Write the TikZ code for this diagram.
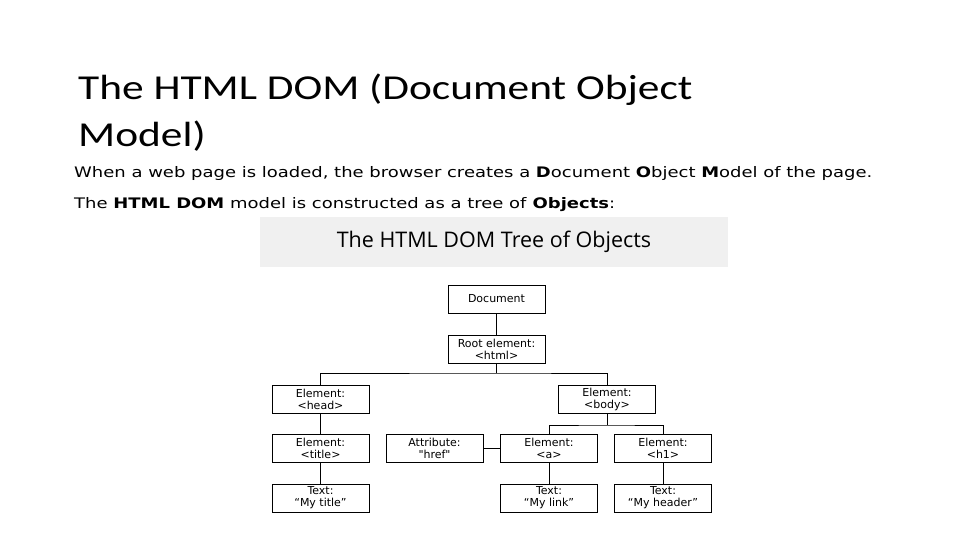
\documentclass[tikz,border=0pt]{standalone}
\usepackage{fontspec}
\setmainfont{Carlito}
\newfontfamily\bodyfont{DejaVu Sans}
\newfontfamily\bannerfont{Open Sans}
\newfontfamily\boxfont{DejaVu Sans}
\definecolor{bannergray}{HTML}{F0F0F0}
\newcommand{\widetext}[1]{\scalebox{1.24}[1]{#1}}
\tikzset{
	domnode/.style={draw, line width=0.9pt, minimum width=97pt, minimum height=28pt,
		inner sep=0pt, align=center, font=\boxfont\fontsize{11}{12}\selectfont},
	link/.style={line width=0.9pt}
}
\begin{document}
\begin{tikzpicture}[x=1pt,y=-1pt]
		\useasboundingbox[fill=white] (0,0) rectangle (960,540);
		% heading and text
		\path
		(78,100) node[anchor=base west,inner sep=0pt,font=\fontsize{35}{40}\selectfont]{\widetext{The HTML DOM (Document Object}}
		(78,147) node[anchor=base west,inner sep=0pt,font=\fontsize{35}{40}\selectfont]{\widetext{Model)}}
		(74,178) node[anchor=base west,inner sep=0pt,font=\bodyfont\fontsize{14.5}{17}\selectfont]{\widetext{When a web page is loaded, the browser creates a \textbf{D}ocument \textbf{O}bject \textbf{M}odel of the page.}}
		(74,208) node[anchor=base west,inner sep=0pt,font=\bodyfont\fontsize{14.5}{17}\selectfont]{\widetext{The \textbf{HTML DOM} model is constructed as a tree of \textbf{Objects}:}}
		;
		\fill[bannergray] (260,217) rectangle (728,267);
		\node[font=\bannerfont\fontsize{21.5}{24}\selectfont] (banner) at (494,242) {The HTML DOM Tree of Objects};
		% tree
		\node[domnode] (doc) at (496.5,299) {Document};
		\node[domnode] (root) at (496.5,349) {Root element:\\<html>};
		\node[domnode] (head) at (320.5,399) {Element:\\<head>};
		\node[domnode] (body) at (607,399) {Element:\\<body>};
		\node[domnode] (title) at (320.5,448) {Element:\\<title>};
		\node[domnode] (attr) at (434.5,448) {Attribute:\\"href"};
		\node[domnode] (a) at (549,448) {Element:\\<a>};
		\node[domnode] (h1) at (663,448) {Element:\\<h1>};
		\node[domnode] (ttext) at (320.5,498) {Text:\\“My title”};
		\node[domnode] (atext) at (549,498) {Text:\\“My link”};
		\node[domnode] (htext) at (663,498) {Text:\\“My header”};
		\coordinate (rootjoin) at (496.5,373);
		\coordinate (bodyjoin) at (607,425);
		\draw[link] (doc) -- (root);
		\draw[link] (root) -- (rootjoin);
		\draw[link] (head.north) |- (rootjoin) -| (body.north);
		\draw[link] (body) -- (bodyjoin);
		\draw[link] (a.north) |- (bodyjoin) -| (h1.north);
		\draw[link] (head) -- (title);
		\draw[link] (title) -- (ttext);
		\draw[link] (attr) -- (a);
		\draw[link] (a) -- (atext);
		\draw[link] (h1) -- (htext);
	\end{tikzpicture}
\end{document}
